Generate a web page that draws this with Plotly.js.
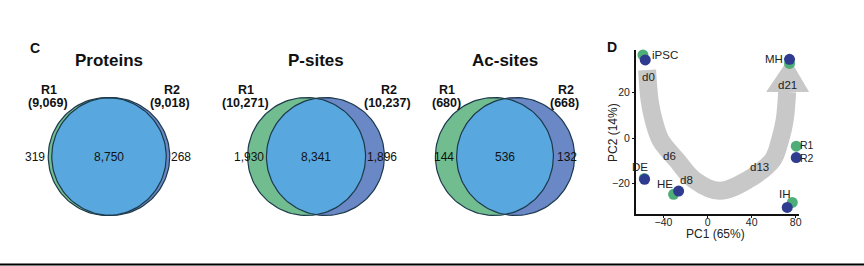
<!DOCTYPE html>
<html><head><meta charset="utf-8">
<script src="https://cdn.plot.ly/plotly-3.0.1.min.js"></script>
<style>html,body{margin:0;padding:0;background:#fff}#g{width:864px;height:266px}</style>
</head><body><div id="g"></div>
<script>
// ---------- Venn data ----------
const vennTitles = ['Proteins', 'P-sites', 'Ac-sites'];
const r1Totals = [9069, 10271, 680];
const r2Totals = [9018, 10237, 668];
const onlyR1 = [319, 1930, 144];
const shared = [8750, 8341, 536];
const onlyR2 = [268, 1896, 132];

// ---------- PCA data ----------
const pcaSamples = ['iPSC', 'DE', 'HE', 'IH', 'MH'];
const r1PC1 = [-58.7, -57.5, -30.9, 76.9, 74.4];
const r1PC2 = [36.6, -17.8, -24.8, -28.4, 32.9];
const r2PC1 = [-56.6, -57.2, -26.3, 72.3, 74.4];
const r2PC2 = [34.4, -18.2, -23.4, -30.6, 34.7];
const dayLabels = ['d0', 'd6', 'd8', 'd13', 'd21'];
const xTicks = [-40, 0, 40, 80];
const yTicks = [-20, 0, 20];
// trajectory arrow centre-line (PC units)
const arrowPC1 = [-54.9, -52.7, -49, -42.7, -28, -12, 10.9, 36.3, 59, 65.8, 70, 72.2];
const arrowPC2 = [30, 16.8, 7.9, -0.9, -9.7, -18.5, -23.3, -18.5, -9.7, -0.9, 7.9, 20.3];

// ---------- layout constants ----------
const W = 864, H = 266;
const FONT = 'Liberation Sans, Arial, sans-serif';
const GREEN = '#72bd90', BLUE = '#6a87c6', SKY = '#58a8df', EDGE = '#1d3a4c';
const PT_GREEN = '#4fae78', PT_BLUE = '#2f3b8e';
const vennCx = [109, 316, 505], vennCy = 156.5, vennR = 59;
const pca = {left: 636, right: 799, top: 50, bottom: 214, xr: [-65, 83], yr: [-33.5, 38.8]};
const px = v => pca.left + (v - pca.xr[0]) / (pca.xr[1] - pca.xr[0]) * (pca.right - pca.left);
const py = v => pca.bottom - (v - pca.yr[0]) / (pca.yr[1] - pca.yr[0]) * (pca.bottom - pca.top);

const traces = [];
const ann = [];
function circlePts(cx, cy, r, a0, a1, n) {
  const xs = [], ys = [];
  for (let i = 0; i <= n; i++) { const a = a0 + (a1 - a0) * i / n; xs.push(cx + r * Math.cos(a)); ys.push(cy + r * Math.sin(a)); }
  return [xs, ys];
}
const fmt = v => v.toLocaleString('en-US');
vennTitles.forEach((t, i) => {
  const off = 0.85 * vennR * (onlyR1[i] / r1Totals[i]);
  const cg = vennCx[i] - off, cb = vennCx[i] + off;
  const [gx, gy] = circlePts(cg, vennCy, vennR, 0, 2 * Math.PI, 120);
  const [bx, by] = circlePts(cb, vennCy, vennR, 0, 2 * Math.PI, 120);
  traces.push({x: gx, y: gy, mode: 'lines', fill: 'toself', fillcolor: GREEN, line: {width: 0}, hoverinfo: 'skip', showlegend: false});
  traces.push({x: bx, y: by, mode: 'lines', fill: 'toself', fillcolor: BLUE, line: {width: 0}, hoverinfo: 'skip', showlegend: false});
  const th = Math.acos(Math.min(1, off / vennR));
  const [l1x, l1y] = circlePts(cg, vennCy, vennR, -th, th, 60);
  const [l2x, l2y] = circlePts(cb, vennCy, vennR, Math.PI - th, Math.PI + th, 60);
  traces.push({x: l1x.concat(l2x), y: l1y.concat(l2y), mode: 'lines', fill: 'toself', fillcolor: SKY, line: {width: 0}, hoverinfo: 'skip', showlegend: false});
  traces.push({x: gx, y: gy, mode: 'lines', line: {width: 1.2, color: EDGE}, hoverinfo: 'skip', showlegend: false});
  traces.push({x: bx, y: by, mode: 'lines', line: {width: 1.2, color: EDGE}, hoverinfo: 'skip', showlegend: false});
  const c = vennCx[i];
  ann.push({x: c, y: 60, text: '<b>' + t + '</b>', font: {size: 17}});
  const dx = [60, 70, 58][i];
  ann.push({x: c - dx, y: 90, text: '<b>R1</b>', font: {size: 12.5}});
  ann.push({x: c - dx - 1, y: 103, text: '<b>(' + fmt(r1Totals[i]) + ')</b>', font: {size: 12.5}});
  ann.push({x: c + dx + 3, y: 90, text: '<b>R2</b>', font: {size: 12.5}});
  ann.push({x: c + dx + 1, y: 103, text: '<b>(' + fmt(r2Totals[i]) + ')</b>', font: {size: 12.5}});
  const ux = [[74, 72], [67, 66], [61, 62]][i];
  ann.push({x: c - ux[0], y: 157, text: fmt(onlyR1[i]), font: {size: 12}});
  ann.push({x: c, y: 157, text: fmt(shared[i]), font: {size: 12}});
  ann.push({x: c + ux[1], y: 157, text: fmt(onlyR2[i]), font: {size: 12}});
});
ann.forEach(a => { a.xref = 'x'; a.yref = 'y'; a.showarrow = false; a.font.family = FONT; a.font.color = '#111'; });
ann.push({xref: 'x', yref: 'y', x: 35, y: 48, text: '<b>C</b>', showarrow: false, font: {family: FONT, size: 14, color: '#111'}});
ann.push({xref: 'x', yref: 'y', x: 612, y: 47, text: '<b>D</b>', showarrow: false, font: {family: FONT, size: 14, color: '#111'}});
// PCA axis titles
ann.push({xref: 'x', yref: 'y', x: 715, y: 234, text: 'PC1 (65%)', showarrow: false, font: {family: FONT, size: 12, color: '#222'}});
ann.push({xref: 'x', yref: 'y', x: 613, y: 133, text: 'PC2 (14%)', textangle: -90, showarrow: false, font: {family: FONT, size: 12, color: '#222'}});

// arrow (drawn in page pixels, converted from PC units)
traces.push({x: arrowPC1.map(px), y: arrowPC2.map(py), mode: 'lines', line: {width: 18, color: '#c8c8c8', shape: 'spline', smoothing: 1}, hoverinfo: 'skip', showlegend: false});
const headBase = arrowPC2[arrowPC2.length - 1], headX = arrowPC1[arrowPC1.length - 1];
const hx = px(headX) + 1, hy = py(headBase);
traces.push({x: [hx - 22, hx + 21, hx + 1, hx - 22], y: [hy, hy, hy - 34, hy],
  mode: 'lines', fill: 'toself', fillcolor: '#c8c8c8', line: {width: 0}, hoverinfo: 'skip', showlegend: false});

// PCA points
traces.push({x: r1PC1, y: r1PC2, xaxis: 'x2', yaxis: 'y2', mode: 'markers', name: 'R1', marker: {size: 11, color: PT_GREEN}, cliponaxis: false, showlegend: false});
traces.push({x: r2PC1, y: r2PC2, xaxis: 'x2', yaxis: 'y2', mode: 'markers', name: 'R2', marker: {size: 11, color: PT_BLUE}, cliponaxis: false, showlegend: false});
// legend keys
traces.push({x: [80.5], y: [-3.6], xaxis: 'x2', yaxis: 'y2', mode: 'markers', marker: {size: 11, color: PT_GREEN}, cliponaxis: false, showlegend: false});
traces.push({x: [80.5], y: [-8.6], xaxis: 'x2', yaxis: 'y2', mode: 'markers', marker: {size: 11, color: PT_BLUE}, cliponaxis: false, showlegend: false});

const pcaLabelPos = {iPSC: [-39, 36.6], DE: [-61.5, -12.6], HE: [-39, -20.3], IH: [70.5, -24.7], MH: [60.2, 34.7]};
const dayPos = {d0: [-53.3, 27], d6: [-34.5, -7.9], d8: [-18.8, -18.5], d13: [47.2, -12.6], d21: [72.9, 23.4]};
pcaSamples.forEach(s => ann.push({xref: 'x2', yref: 'y2', x: pcaLabelPos[s][0], y: pcaLabelPos[s][1], text: s, showarrow: false, font: {family: FONT, size: 11.5, color: '#222'}}));
dayLabels.forEach(s => ann.push({xref: 'x2', yref: 'y2', x: dayPos[s][0], y: dayPos[s][1], text: s, showarrow: false, font: {family: FONT, size: 11.5, color: '#222'}}));
ann.push({xref: 'x2', yref: 'y2', x: 83, y: -3.1, xanchor: 'left', text: 'R1', showarrow: false, borderpad: 0, font: {family: FONT, size: 10.5, color: '#222'}});
ann.push({xref: 'x2', yref: 'y2', x: 83, y: -9.0, xanchor: 'left', text: 'R2', showarrow: false, borderpad: 0, font: {family: FONT, size: 10.5, color: '#222'}});

const layout = {
  width: W, height: H, margin: {l: 0, r: 0, t: 0, b: 0}, paper_bgcolor: '#fff', plot_bgcolor: 'rgba(0,0,0,0)',
  showlegend: false, font: {family: FONT},
  xaxis: {domain: [0, 1], range: [0, W], visible: false, fixedrange: true},
  yaxis: {domain: [0, 1], range: [H, 0], visible: false, fixedrange: true},
  xaxis2: {domain: [pca.left / W, pca.right / W], range: pca.xr, anchor: 'y2', showgrid: false, zeroline: false,
    showline: true, linewidth: 2, linecolor: '#111', ticks: 'outside', ticklen: 2, tickwidth: 1, tickcolor: '#111',
    ticklabelstandoff: -5, tickvals: xTicks, tickfont: {size: 10.5, color: '#222'}},
  yaxis2: {domain: [1 - pca.bottom / H, 1 - pca.top / H], range: pca.yr, anchor: 'x2', showgrid: false, zeroline: false,
    showline: true, linewidth: 2, linecolor: '#111', ticks: 'outside', ticklen: 2, tickwidth: 1, tickcolor: '#111',
    tickvals: yTicks, tickfont: {size: 10.5, color: '#222'}},
  shapes: [{type: 'line', xref: 'paper', yref: 'paper', x0: 0, x1: 1, y0: 1 - 264.5 / H, y1: 1 - 264.5 / H, line: {color: '#000', width: 2}}],
  annotations: ann
};
Plotly.newPlot('g', traces, layout, {staticPlot: true});
</script></body></html>
